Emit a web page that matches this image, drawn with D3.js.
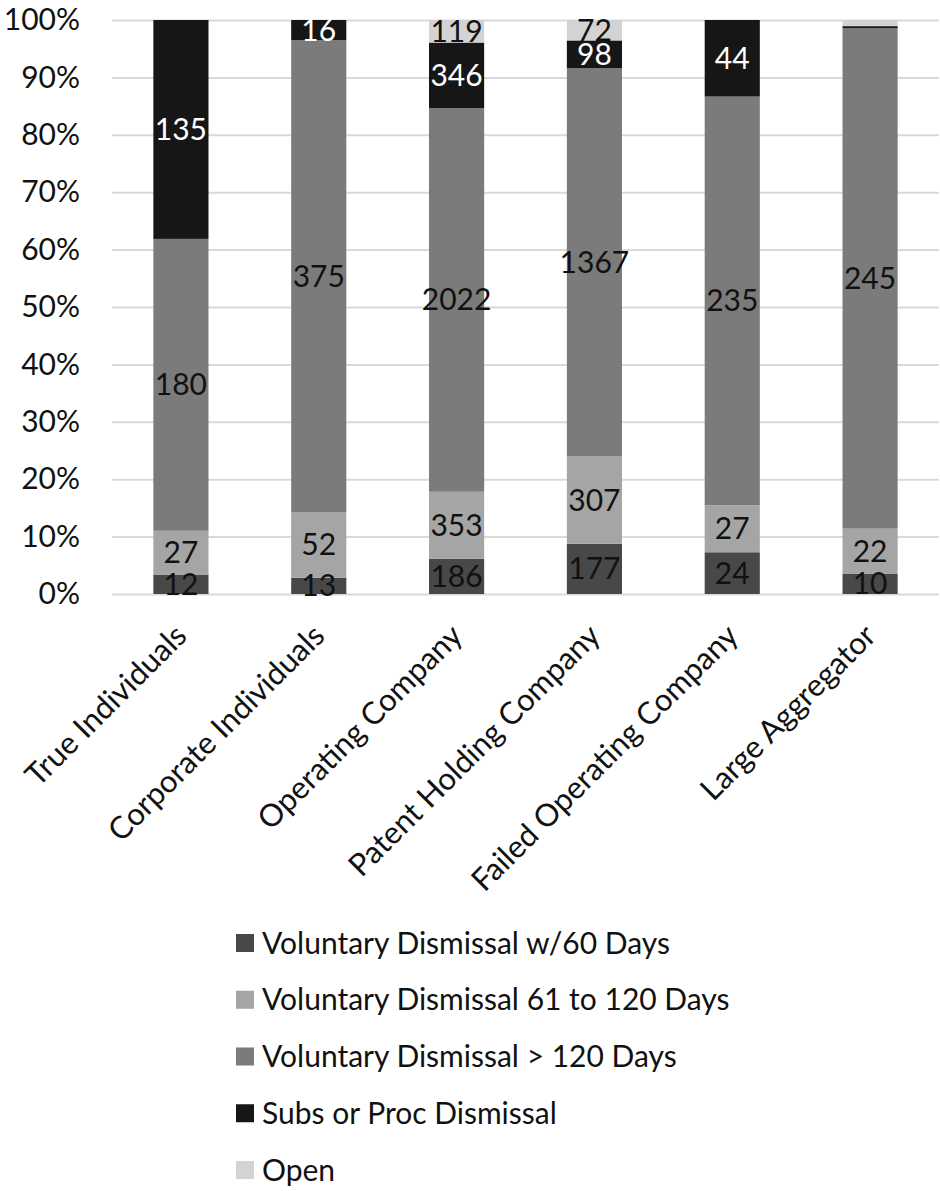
<!DOCTYPE html>
<html>
<head>
<meta charset="utf-8">
<script src="https://cdn.jsdelivr.net/npm/d3@7"></script>
<style>
  body { margin: 0; background: #fff; }
  text { font-family: Lato, "Open Sans", sans-serif; fill: #111; }
</style>
</head>
<body>
<div id="chart-area"></div>
<script>
// categories on the x axis
var categories = ["True Individuals", "Corporate Individuals", "Operating Company",
	"Patent Holding Company", "Failed Operating Company", "Large Aggregator"];

// series, bottom to top
var seriesNames = ["Voluntary Dismissal w/60 Days", "Voluntary Dismissal 61 to 120 Days",
	"Voluntary Dismissal > 120 Days", "Subs or Proc Dismissal", "Open"];

var volDismissal60 = [12, 13, 186, 177, 24, 10];
var volDismissal61to120 = [27, 52, 353, 307, 27, 22];
var volDismissalOver120 = [180, 375, 2022, 1367, 235, 245];
var subsProcDismissal = [135, 16, 346, 98, 44, 1];
var openCases = [0, 0, 119, 72, 0, 3];

var yTicks = [0, 0.1, 0.2, 0.3, 0.4, 0.5, 0.6, 0.7, 0.8, 0.9, 1];

var colors = ["#484848", "#a5a5a5", "#7b7b7b", "#161616", "#d3d3d3"];
var labelColors = ["#111", "#111", "#111", "#fff", "#111"];

var fontSize = 30;

var margin = { left: 112, right: 1, top: 20, bottom: 597 };
var width = 940 - margin.left - margin.right;
var height = 1191 - margin.top - margin.bottom;

var svg = d3.select("#chart-area")
	.append("svg")
	.attr("width", 940)
	.attr("height", 1191);

var g = svg.append("g")
	.attr("transform", "translate(" + margin.left + ", " + margin.top + ")");

// build one row per category for d3.stack
var allSeries = [volDismissal60, volDismissal61to120, volDismissalOver120, subsProcDismissal, openCases];
var table = categories.map(function(c, i){
	var row = { category: c };
	seriesNames.forEach(function(s, j){ row[s] = allSeries[j][i]; });
	return row;
});

var stacked = d3.stack()
	.keys(seriesNames)
	.offset(d3.stackOffsetExpand)(table);

// Scales
var x = d3.scaleBand()
	.domain(categories)
	.range([0, width])
	.paddingInner(0.6)
	.paddingOuter(0.3);

var y = d3.scaleLinear()
	.domain([0, 1])
	.range([height, 0]);

// gridlines + y labels
var yAxisCall = d3.axisLeft(y)
	.tickValues(yTicks)
	.tickSize(-width)
	.tickPadding(32)
	.tickFormat(d3.format(".0%"));

var yAxisGroup = g.append("g")
	.attr("class", "y-axis")
	.call(yAxisCall);

yAxisGroup.select(".domain").remove();
yAxisGroup.selectAll("line")
	.attr("stroke", "#d9d9d9")
	.attr("stroke-width", 2);
yAxisGroup.selectAll("text")
	.attr("font-size", fontSize)
	.attr("font-family", "Lato, sans-serif")
	.attr("fill", "#111");

// bars
var layers = g.selectAll(".layer")
	.data(stacked)
	.enter()
	.append("g")
	.attr("class", "layer")
	.attr("fill", function(d, i){ return colors[i]; });

layers.selectAll("rect")
	.data(function(d){ return d; })
	.enter()
	.append("rect")
	.attr("x", function(d){ return x(d.data.category); })
	.attr("width", x.bandwidth())
	.attr("y", function(d){ return y(d[1]); })
	.attr("height", function(d){ return y(d[0]) - y(d[1]); });

// value labels, skip slivers
stacked.forEach(function(layer, i){
	g.selectAll(".lbl-" + i)
		.data(layer.filter(function(d){ return y(d[0]) - y(d[1]) > 8; }))
		.enter()
		.append("text")
		.attr("class", "lbl-" + i)
		.attr("x", function(d){ return x(d.data.category) + x.bandwidth() / 2; })
		.attr("y", function(d){ return (y(d[0]) + y(d[1])) / 2; })
		.attr("dy", "0.35em")
		.attr("text-anchor", "middle")
		.attr("font-size", fontSize)
		.style("fill", labelColors[i])
		.text(function(d){ return d.data[layer.key]; });
});

// rotated category labels
g.selectAll(".cat")
	.data(categories)
	.enter()
	.append("text")
	.attr("class", "cat")
	.attr("text-anchor", "end")
	.attr("dy", "0.35em")
	.attr("font-size", fontSize + 1)
	.attr("transform", function(d){
		return "translate(" + (x(d) + x.bandwidth() / 2) + ", " + (height + 36) + ") rotate(-45)";
	})
	.text(function(d){ return d; });

// legend
var legendRowHeight = 56.75;

var legend = svg.append("g")
	.attr("transform", "translate(236, 943)");

seriesNames.forEach(function(name, i){

	var legendRow = legend.append("g")
		.attr("transform", "translate(0, " + i * legendRowHeight + ")");

	legendRow.append("rect")
		.attr("y", -9)
		.attr("width", 18)
		.attr("height", 18)
		.attr("fill", colors[i]);

	legendRow.append("text")
		.attr("x", 26)
		.attr("dy", "0.35em")
		.attr("font-size", fontSize)
		.text(name);
});
</script>
</body>
</html>
